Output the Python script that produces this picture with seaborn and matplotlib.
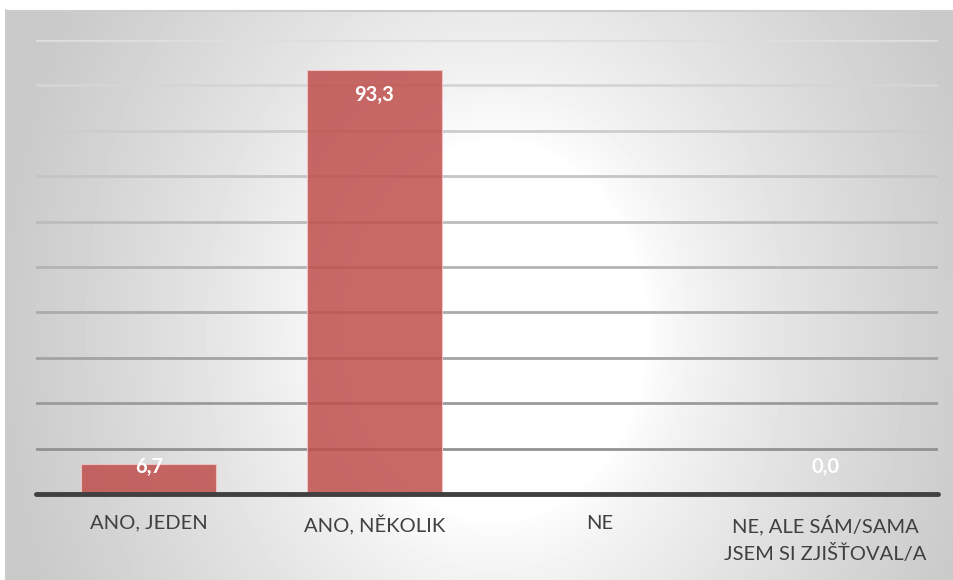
import numpy as np
import pandas as pd
import matplotlib
matplotlib.use('Agg')
import matplotlib.pyplot as plt
import seaborn as sns

# data
categories = ['ANO, JEDEN', 'ANO, NĚKOLIK', 'NE', 'NE, ALE SÁM/SAMA\nJSEM SI ZJIŠŤOVAL/A']
values = [6.7, 93.3, np.nan, 0.0]
value_labels = ['6,7', '93,3', '', '0,0']
y_ticks = list(range(0, 101, 10))

sns.set_theme(style='white')
plt.rcParams['font.family'] = ['Lato', 'DejaVu Sans']

W, H = 954, 580
fig = plt.figure(figsize=(W / 100, H / 100), dpi=100)
fig.patch.set_facecolor('white')

# radial grey gradient behind the chart (wide white core, grey edges)
bg = fig.add_axes([6 / W, 0, 1 - 6 / W, 1 - 10 / H])
yy, xx = np.mgrid[10:H, 6:W]
d = np.sqrt((xx - 495) ** 2 + (0.8 * (yy - 330)) ** 2)
shade = 1 - 0.21 * np.clip((d - 150) / 350.0, 0, 1) ** 0.75
bg.imshow(shade, cmap='gray', vmin=0, vmax=1, aspect='auto', interpolation='bilinear')
bg.axis('off')
fig.add_artist(plt.Line2D([6 / W, 1], [1 - 10.5 / H] * 2, color='#cccccc', lw=1.5))
fig.add_artist(plt.Line2D([6.5 / W] * 2, [0, 1 - 10 / H], color='#cccccc', lw=1.5))

left, right, top, base = 36, 938, 40, 494
ax = fig.add_axes([left / W, (H - base) / H, (right - left) / W, (base - top) / H])
ax.patch.set_alpha(0)

df = pd.DataFrame({'cat': categories, 'val': values})

# gridlines fading from light at the top to darker at the bottom
for t in y_ticks[1:]:
    frac = t / 100.0
    g = 0.54 + 0.33 * frac
    ax.axhline(t, color=(g, g, g), lw=2, zorder=0)

sns.barplot(data=df, x='cat', y='val', color='#c0504d', alpha=0.86, width=0.6,
            edgecolor='#f0c8c8', linewidth=0.8, saturation=1, ax=ax, zorder=2)
ax.axhline(0, color='#404040', lw=3.5, zorder=3, clip_on=False)

for i, (v, lab) in enumerate(zip(values, value_labels)):
    if lab:
        ax.text(i, max(v - 5.5, 5.9), lab, ha='center', va='center',
                color='white', fontsize=14.5, fontweight='bold', zorder=4)

ax.set_ylim(0, 100)
ax.set_xlim(-0.5, 3.5)
ax.set_yticks([])
ax.set_xlabel('')
ax.set_ylabel('')
ax.tick_params(axis='x', length=0, pad=15, labelsize=14.5, labelcolor='#404040')
for lbl in ax.get_xticklabels():
    lbl.set_linespacing(1.55)
for s in ax.spines.values():
    s.set_visible(False)

plt.savefig('out.png', dpi=100)
plt.close()
